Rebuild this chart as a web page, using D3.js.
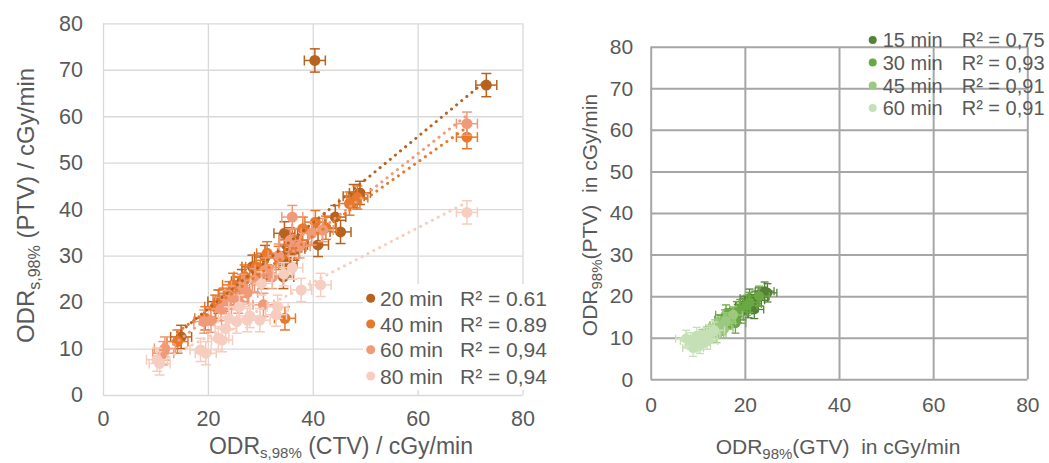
<!DOCTYPE html>
<html>
<head>
<meta charset="utf-8">
<script src="https://cdn.jsdelivr.net/npm/d3@7"></script>
<style>
  html, body { margin: 0; padding: 0; background: #fff; }
  svg { display: block; font-family: "Liberation Sans", Arial, sans-serif; }
  text { fill: #595959; }
</style>
</head>
<body>
<svg id="chart" width="1049" height="463"></svg>
<script>
// ---------- shared ticks ----------
const xTickValues = [0, 20, 40, 60, 80];
const yTickValues = [0, 10, 20, 30, 40, 50, 60, 70, 80];

// ---------- left panel: ODR s,98% CTV vs PTV ----------
const leftNames = ["20 min", "40 min", "60 min", "80 min"];
const leftR2 = ["R² = 0.61", "R² = 0.89", "R² = 0,94", "R² = 0,94"];
const leftColors = ["#B8621F", "#E6792B", "#F09A7A", "#F6CDBE"];
const leftErrX = [2.0, 2.0, 2.0, 2.0];
const leftErrY = [2.5, 2.5, 2.5, 2.5];

const ctv20 = [[40.4,72.0],[73.1,66.7],[49.0,43.5],[47.8,42.8],[44.3,38.3],[45.3,35.1],[41.0,32.3],[34.6,34.8],[35.6,33.5],[37.1,33.3],[35.4,30.4],[35.0,28.3],[34.4,25.4],[30.6,25.4],[28.5,27.6],[30.9,29.7],[22.0,20.1],[14.9,12.5],[26.5,24.5],[36.5,31.5]];
const ctv40 = [[69.4,55.5],[47.0,41.2],[48.5,42.5],[38.1,35.8],[40.5,37.2],[36.7,31.9],[31.3,30.5],[29.2,27.6],[24.8,23.7],[24.1,21.9],[21.4,19.0],[14.2,11.5],[34.7,16.5],[33.5,29.5],[27.0,25.5],[19.5,16.5],[23.0,20.5],[42.5,36.0],[26.0,22.8],[30.0,26.5]];
const ctv60 = [[69.4,58.4],[36.1,38.3],[39.8,34.8],[41.9,35.5],[30.6,19.4],[32.3,25.4],[28.9,24.7],[27.5,22.0],[25.8,20.1],[20.6,16.0],[19.3,15.8],[11.8,10.0],[11.5,9.0],[35.7,33.3],[33.5,30.0],[23.5,20.0],[22.5,18.5],[37.5,32.0],[31.0,27.0],[26.5,23.5],[24.5,21.0]];
const ctv80 = [[69.4,39.3],[41.5,23.7],[37.8,22.6],[36.1,27.4],[33.3,19.0],[33.0,17.3],[29.9,16.1],[27.5,16.1],[25.5,15.8],[23.4,14.3],[22.0,12.2],[22.7,11.8],[18.6,9.7],[19.6,9.0],[10.8,6.8],[10.3,7.6],[30.2,24.0],[28.0,17.0],[26.0,19.0],[24.0,16.5],[34.5,26.0]];
const leftData = [ctv20, ctv40, ctv60, ctv80];

// ---------- right panel: ODR 98% GTV vs PTV ----------
const rightNames = ["15 min", "30 min", "45 min", "60 min"];
const rightR2 = ["R² = 0,75", "R² = 0,93", "R² = 0,91", "R² = 0,91"];
const rightColors = ["#548235", "#6AA842", "#9CC880", "#C6E0B6"];
const rightErrX = [2.0, 2.2, 2.0, 2.2];
const rightErrY = [2.2, 2.4, 2.0, 2.0];

const gtv15 = [[24.8,20.8],[24.2,21.2],[23.0,19.8],[22.2,19.0],[21.5,18.2],[20.8,17.0],[22.0,16.8],[20.0,17.8],[19.5,16.5],[18.5,15.8],[17.0,14.8],[21.0,19.5]];
const gtv30 = [[23.0,20.0],[21.0,18.5],[20.4,17.8],[19.0,16.8],[18.3,16.3],[17.5,15.0],[16.5,14.6],[15.8,14.3],[18.0,13.5],[14.8,13.0],[16.0,15.5]];
const gtv45 = [[17.5,15.5],[16.0,14.0],[15.2,13.0],[14.3,12.5],[13.7,12.3],[13.0,11.2],[12.5,10.8],[11.9,10.6],[15.5,12.0],[14.0,10.8],[11.0,10.0]];
const gtv60 = [[13.5,11.8],[12.5,11.0],[11.9,10.5],[11.0,9.6],[10.1,9.0],[9.5,8.6],[9.0,7.5],[8.5,9.2],[10.5,8.2],[12.0,9.2],[7.5,9.8],[9.8,10.5]];
const rightData = [gtv15, gtv30, gtv45, gtv60];

const svg = d3.select("#chart");

// least-squares line through a point set
function linearFit(pts) {
  const mx = d3.mean(pts, d => d[0]), my = d3.mean(pts, d => d[1]);
  let sxy = 0, sxx = 0;
  pts.forEach(([x, y]) => { sxy += (x - mx) * (y - my); sxx += (x - mx) ** 2; });
  const b = sxy / sxx;
  return { a: my - b * mx, b };
}

function drawPanel(cfg) {
  const { x, y, grid, gridWidth, tickFont, padX, padY } = cfg;
  const g = svg.append("g");
  const [x0, x1] = x.range(), [y0, y1] = y.range();

  // grid + y tick labels
  const ay = g.append("g").attr("transform", `translate(${x0},0)`)
    .call(d3.axisLeft(y).tickValues(yTickValues).tickSize(-(x1 - x0)).tickPadding(padY));
  // grid + x tick labels
  const ax = g.append("g").attr("transform", `translate(0,${y0})`)
    .call(d3.axisBottom(x).tickValues(xTickValues).tickSize(-(y0 - y1)).tickPadding(padX));
  [ax, ay].forEach(a => {
    a.select(".domain").remove();
    a.selectAll("line").attr("stroke", grid).attr("stroke-width", gridWidth);
    a.selectAll("text").style("font-size", tickFont + "px").attr("fill", "#595959");
  });
  return g.append("g");
}

function drawSeries(layer, cfg, trendFirst) {
  const { x, y, data, colors, errX, errY, r, cap, errWidth, trendWidth } = cfg;
  const trend = (pts, i) => {
    const f = linearFit(pts);
    const [xmin, xmax] = d3.extent(pts, d => d[0]);
    layer.append("line")
      .attr("x1", x(xmin)).attr("y1", y(f.a + f.b * xmin))
      .attr("x2", x(xmax)).attr("y2", y(f.a + f.b * xmax))
      .attr("stroke", colors[i]).attr("stroke-width", trendWidth)
      .attr("stroke-linecap", "round").attr("stroke-dasharray", "0.1 6.5");
  };
  if (trendFirst) data.forEach(trend);
  data.forEach((pts, i) => {
    const s = layer.append("g");
    const c = colors[i];
    const bars = s.selectAll("g.err").data(pts).join("g").attr("class", "err")
      .attr("stroke", c).attr("stroke-width", errWidth).attr("fill", "none");
    // horizontal error bars with end caps
    bars.append("line")
      .attr("x1", d => x(d[0] - errX[i])).attr("x2", d => x(d[0] + errX[i]))
      .attr("y1", d => y(d[1])).attr("y2", d => y(d[1]));
    bars.append("line")
      .attr("x1", d => x(d[0] - errX[i])).attr("x2", d => x(d[0] - errX[i]))
      .attr("y1", d => y(d[1]) - cap).attr("y2", d => y(d[1]) + cap);
    bars.append("line")
      .attr("x1", d => x(d[0] + errX[i])).attr("x2", d => x(d[0] + errX[i]))
      .attr("y1", d => y(d[1]) - cap).attr("y2", d => y(d[1]) + cap);
    // vertical error bars with end caps
    bars.append("line")
      .attr("x1", d => x(d[0])).attr("x2", d => x(d[0]))
      .attr("y1", d => y(d[1] - errY[i])).attr("y2", d => y(d[1] + errY[i]));
    bars.append("line")
      .attr("x1", d => x(d[0]) - cap).attr("x2", d => x(d[0]) + cap)
      .attr("y1", d => y(d[1] - errY[i])).attr("y2", d => y(d[1] - errY[i]));
    bars.append("line")
      .attr("x1", d => x(d[0]) - cap).attr("x2", d => x(d[0]) + cap)
      .attr("y1", d => y(d[1] + errY[i])).attr("y2", d => y(d[1] + errY[i]));
    s.selectAll("circle").data(pts).join("circle")
      .attr("cx", d => x(d[0])).attr("cy", d => y(d[1])).attr("r", r).attr("fill", c);
  });
  if (!trendFirst) data.forEach(trend);
}

function legend(cfg) {
  const { names, r2, colors, x0, xText, xR2, ys, font, r, box } = cfg;
  const g = svg.append("g");
  if (box) g.append("rect").attr("x", box[0]).attr("y", box[1]).attr("width", box[2]).attr("height", box[3]).attr("fill", "#fff");
  names.forEach((n, i) => {
    g.append("circle").attr("cx", x0).attr("cy", ys[i]).attr("r", r).attr("fill", colors[i]);
    g.append("text").attr("x", xText).attr("y", ys[i]).attr("dy", "0.36em").style("font-size", font + "px").text(n);
    g.append("text").attr("x", xR2).attr("y", ys[i]).attr("dy", "0.36em").style("font-size", font + "px").text(r2[i]);
  });
}

function axisTitle(x, y, rotate, parts, size, subSize, shift) {
  const t = svg.append("text").attr("transform", `translate(${x},${y}) rotate(${rotate})`)
    .attr("text-anchor", "middle").style("font-size", size + "px").style("white-space", "pre");
  parts.forEach(p => {
    const ts = t.append("tspan").text(p.t);
    if (p.sub) ts.attr("dy", shift).style("font-size", subSize + "px");
    if (p.back) ts.attr("dy", -shift);
  });
}

// ----- left panel -----
const leftCfg = {
  x: d3.scaleLinear().domain([0, 80]).range([103, 522.5]),
  y: d3.scaleLinear().domain([0, 80]).range([395, 23.3]),
  data: leftData, colors: leftColors, errX: leftErrX, errY: leftErrY,
  r: 5.5, cap: 5, grid: "#d9d9d9", gridWidth: 1.3, tickFont: 21.5, padX: 16, padY: 20,
  errWidth: 1.5, trendWidth: 3
};
const leftLayer = drawPanel(leftCfg);
drawSeries(leftLayer, leftCfg, false);
legend({ names: leftNames, r2: leftR2, colors: leftColors, x0: 370.7, xText: 380, xR2: 460,
  ys: [298.3, 324, 349.8, 376], font: 21, r: 4.5, box: [363, 284, 195, 106] });

axisTitle(341, 454, 0, [{ t: "ODR" }, { t: "s,98%", sub: true }, { t: " (CTV) / cGy/min", back: true }], 23, 15, 4);
axisTitle(34, 205.5, -90, [{ t: "ODR" }, { t: "s,98%", sub: true }, { t: " (PTV) / cGy/min", back: true }], 24, 16, 6);

// ----- right panel -----
const rightCfg = {
  x: d3.scaleLinear().domain([0, 80]).range([650.7, 1027.3]),
  y: d3.scaleLinear().domain([0, 80]).range([379.3, 46.7]),
  data: rightData, colors: rightColors, errX: rightErrX, errY: rightErrY,
  r: 5, cap: 4, grid: "#a6a6a6", gridWidth: 2, tickFont: 21, padX: 18, padY: 17.5,
  errWidth: 1.3, trendWidth: 2.5
};
const rightLayer = drawPanel(rightCfg);
drawSeries(rightLayer, rightCfg, true);
legend({ names: rightNames, r2: rightR2, colors: rightColors, x0: 872.7, xText: 882.7, xR2: 961.7,
  ys: [40, 62.5, 85.5, 108], font: 20, r: 4 });

axisTitle(838, 454, 0, [{ t: "ODR" }, { t: "98%", sub: true }, { t: "(GTV)  in cGy/min", back: true }], 21, 15, 5);
axisTitle(597, 215, -90, [{ t: "ODR" }, { t: "98%", sub: true }, { t: "(PTV)  in cGy/min", back: true }], 21, 15, 5);
</script>
</body>
</html>
